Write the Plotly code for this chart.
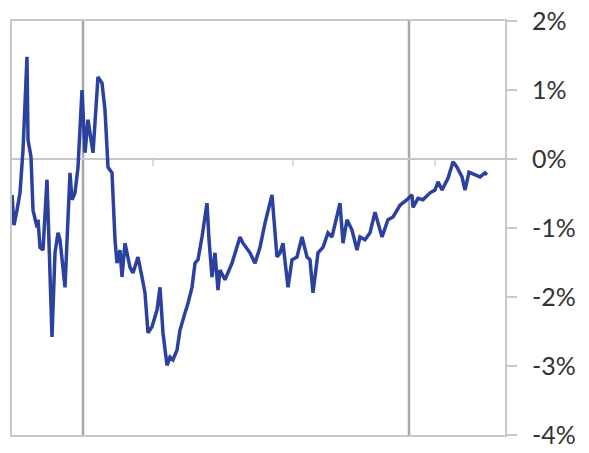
import plotly.graph_objects as go

# time index (periods) and spread values (%)
period = [0, 2, 5, 8, 11, 15, 16, 19, 21, 25, 26, 28, 31, 35, 40, 43, 46, 48, 53, 58, 60, 63, 66, 70,
          73, 76, 81, 86, 90, 93, 96, 100, 103, 105, 108, 110, 113, 118, 121, 126, 130, 133, 136, 140,
          145, 148, 151, 155, 158, 161, 165, 168, 173, 176, 180, 183, 186, 190, 195, 197, 200, 203, 206,
          208, 213, 220, 228, 231, 238, 243, 248, 253, 260, 265, 268, 271, 276, 280, 285, 290, 295, 298,
          301, 306, 311, 316, 320, 323, 328, 331, 335, 340, 345, 348, 353, 358, 363, 370, 376, 381, 388,
          395, 400, 401, 406, 411, 418, 423, 426, 430, 436, 441, 445, 450, 453, 457, 463, 468, 473, 475]
spread = [-0.52, -0.96, -0.74, -0.49, 0.13, 1.48, 0.28, 0.03, -0.74, -0.99, -0.88, -1.28, -1.32, -0.30,
          -2.58, -1.36, -1.07, -1.17, -1.86, -0.20, -0.59, -0.49, -0.12, 1.00, 0.09, 0.57, 0.09, 1.19,
          1.10, 0.71, -0.12, -0.20, -1.17, -1.51, -1.32, -1.71, -1.22, -1.57, -1.65, -1.42, -1.71, -1.94,
          -2.52, -2.43, -2.19, -1.86, -2.52, -2.99, -2.87, -2.91, -2.77, -2.48, -2.23, -2.09, -1.86, -1.51,
          -1.46, -1.13, -0.64, -1.17, -1.71, -1.36, -1.90, -1.61, -1.75, -1.51, -1.13, -1.22, -1.36, -1.51,
          -1.28, -0.93, -0.52, -1.42, -1.36, -1.22, -1.86, -1.46, -1.42, -1.13, -1.42, -1.46, -1.94, -1.36,
          -1.28, -1.07, -1.13, -0.93, -0.64, -1.22, -0.88, -1.03, -1.32, -1.13, -1.17, -1.07, -0.77, -1.13,
          -0.88, -0.84, -0.67, -0.59, -0.52, -0.70, -0.57, -0.59, -0.49, -0.45, -0.33, -0.45, -0.28, -0.04,
          -0.12, -0.26, -0.45, -0.19, -0.23, -0.26, -0.20, -0.23]

x_range = [0, 493]
y_ticks = [-4, -3, -2, -1, 0, 1, 2]
y_tick_labels = ["-4%", "-3%", "-2%", "-1%", "0%", "1%", "2%"]
period_markers = [71, 397]
minor_ticks = [141, 281, 423]

fig = go.Figure()
fig.add_trace(go.Scatter(x=period, y=spread, mode="lines",
                         line=dict(color="#2b41a0", width=3.5), hoverinfo="skip"))
fig.add_trace(go.Scatter(x=minor_ticks, y=[-0.04] * len(minor_ticks), mode="markers",
                         marker=dict(symbol="line-ns-open", size=6, color="#cfcfcf",
                                     line=dict(color="#cfcfcf", width=1.5)),
                         hoverinfo="skip"))

for m in period_markers:
    fig.add_shape(type="line", xref="x", yref="paper", x0=m, x1=m, y0=0, y1=1,
                  line=dict(color="#a8a8a8", width=2.5), layer="below")

# the page body has an 8px margin on every side, so the figure is sized to fit inside it
fig.update_layout(
    width=573, height=437,
    margin=dict(l=4, r=76, t=13, b=10),
    paper_bgcolor="white", plot_bgcolor="white",
    showlegend=False,
    xaxis=dict(range=x_range, showgrid=False, zeroline=False, showticklabels=False,
               showline=True, linecolor="#c8c8c8", linewidth=2, mirror=True, ticks="",
               automargin=False),
    yaxis=dict(range=[-4, 2], side="right", tickvals=y_ticks, ticktext=y_tick_labels,
               showgrid=False, zeroline=True, zerolinecolor="#c8c8c8", zerolinewidth=2,
               showline=True, linecolor="#c8c8c8", linewidth=2, mirror=True,
               ticks="outside", ticklen=10, tickwidth=2, tickcolor="#c8c8c8",
               ticklabelstandoff=10, automargin=False, ticklabeloverflow="allow",
               tickfont=dict(family="Lato", size=25, color="#333333")),
)

fig.write_html("out.html")
